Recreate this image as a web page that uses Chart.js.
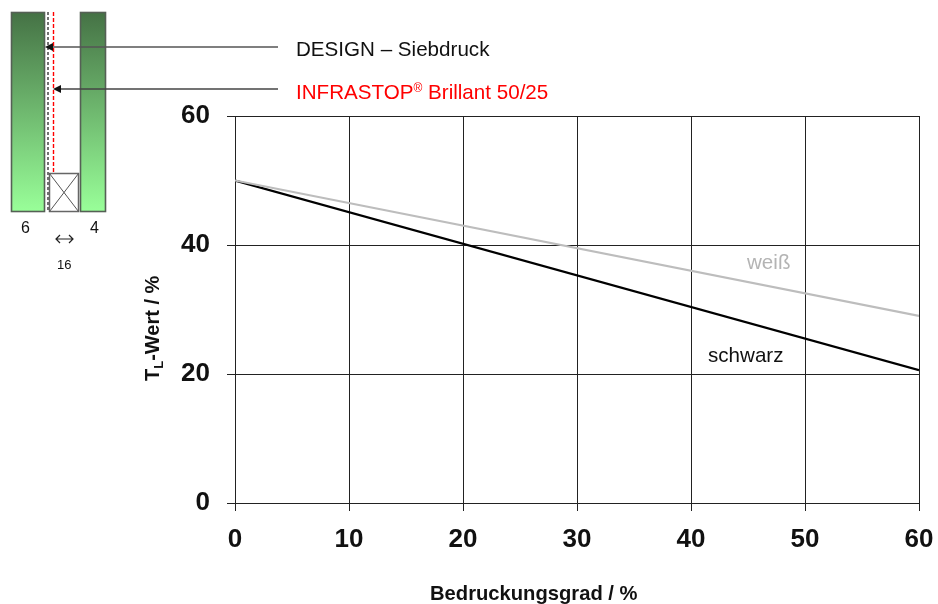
<!DOCTYPE html>
<html lang="de">
<head>
<meta charset="utf-8">
<title>TL-Wert</title>
<script src="https://cdn.jsdelivr.net/npm/chart.js@4"></script>
<style>
  html, body { margin: 0; padding: 0; background: #fff; }
  #wrap { position: relative; width: 938px; height: 604px; overflow: hidden; font-family: "Liberation Sans", Arial, sans-serif; color: #111; }
  #chart { position: absolute; left: 0; top: 0; }
  #diagram { position: absolute; left: 0; top: 0; }
  .label { position: absolute; white-space: nowrap; line-height: 1; }
  .label sup { font-size: 12px; vertical-align: 7px; line-height: 0; }
  .label sub { font-size: 13px; vertical-align: -4px; line-height: 0; }
</style>
</head>
<body>
<div id="wrap">
  <canvas id="chart" width="938" height="604"></canvas>
  <svg id="diagram" width="290" height="280" viewBox="0 0 290 280">
    <defs>
      <linearGradient id="glass" x1="0" y1="0" x2="0" y2="1">
        <stop offset="0" stop-color="#457245"/>
        <stop offset="1" stop-color="#99ff99"/>
      </linearGradient>
    </defs>
    <rect x="11.5" y="12.5" width="33" height="199" fill="url(#glass)" stroke="#556055" stroke-width="1.6"/>
    <rect x="80.5" y="12.5" width="25" height="199" fill="url(#glass)" stroke="#556055" stroke-width="1.6"/>
    <line x1="48" y1="12" x2="48" y2="211" stroke="#444" stroke-width="1.5" stroke-dasharray="3 2"/>
    <line x1="53.5" y1="12" x2="53.5" y2="172" stroke="#f00" stroke-width="1.4" stroke-dasharray="4 2"/>
    <rect x="49.5" y="173.5" width="29" height="38" fill="#fff" stroke="#666" stroke-width="1.5"/>
    <path d="M49.5 173.5 L78.5 211.5 M78.5 173.5 L49.5 211.5" stroke="#555" stroke-width="1"/>
    <line x1="52" y1="47" x2="278" y2="47" stroke="#555" stroke-width="1.6"/>
    <path d="M45 47 L53 43 L53 51 Z" fill="#111"/>
    <line x1="60" y1="89" x2="278" y2="89" stroke="#444" stroke-width="1.6"/>
    <path d="M53 89 L61 85 L61 93 Z" fill="#111"/>
    <path d="M56 239 H73 M60 235 L56 239 L60 243 M69 235 L73 239 L69 243" fill="none" stroke="#222" stroke-width="1.2"/>
  </svg>
  <div class="label" style="left:21px;top:220px;font-size:16px">6</div>
  <div class="label" style="left:90px;top:220px;font-size:16px">4</div>
  <div class="label" style="left:57px;top:258px;font-size:13px">16</div>
  <div class="label" style="left:296px;top:39px;font-size:20.6px">DESIGN – Siebdruck</div>
  <div class="label" style="left:296px;top:82px;font-size:20.6px;color:#f00">INFRASTOP<sup>®</sup> Brillant 50/25</div>
  <div class="label" style="left:747px;top:252px;font-size:20.6px;color:#b4b4b4">weiß</div>
  <div class="label" style="left:708px;top:345px;font-size:20.6px">schwarz</div>
  <div class="label" style="left:142px;top:381px;font-size:20px;font-weight:bold;transform-origin:0 0;transform:rotate(-90deg)">T<sub>L</sub>-Wert / %</div>
  <div class="label" style="left:430px;top:583px;font-size:20.2px;font-weight:bold">Bedruckungsgrad / %</div>
</div>
<script>
// Values
const bedruckung = [0, 60];
const schwarz = [50, 20.6];
const weiss = [50, 29];
const xTicks = [0, 10, 20, 30, 40, 50, 60];
const yTicks = [0, 20, 40, 60];

function points(values) {
  return values.map((v, i) => ({ x: bedruckung[i], y: v }));
}

const tickFont = { family: '"Liberation Sans", Arial, sans-serif', size: 26, weight: 'bold' };

new Chart(document.getElementById('chart').getContext('2d'), {
  type: 'line',
  data: {
    datasets: [
      { label: 'weiß', data: points(weiss), borderColor: '#bdbdbd', borderWidth: 2.2, pointRadius: 0, tension: 0 },
      { label: 'schwarz', data: points(schwarz), borderColor: '#000', borderWidth: 2.2, pointRadius: 0, tension: 0 }
    ]
  },
  options: {
    responsive: false,
    animation: false,
    layout: { autoPadding: false, padding: { top: 116, right: 19, left: 0, bottom: 0 } },
    plugins: { legend: { display: false }, tooltip: { enabled: false } },
    scales: {
      x: {
        type: 'linear',
        min: 0,
        max: 60,
        afterBuildTicks: axis => { axis.ticks = xTicks.map(v => ({ value: v })); },
        afterFit: axis => {
          axis.height = 101;
          // drop the room chart.js keeps for the last tick label, the plot runs to x=919
          axis.paddingLeft = 0;
          axis.paddingRight = 0;
        },
        grid: { color: '#222', lineWidth: 1, tickLength: 8, tickColor: '#222' },
        border: { color: '#222' },
        ticks: { font: tickFont, color: '#111', padding: 13, maxRotation: 0 }
      },
      y: {
        min: 0,
        max: 60,
        afterBuildTicks: axis => { axis.ticks = yTicks.map(v => ({ value: v })); },
        afterFit: axis => { axis.width = 235; },
        grid: { color: '#222', lineWidth: 1, tickLength: 8, tickColor: '#222' },
        border: { color: '#222' },
        ticks: { font: tickFont, color: '#111', padding: 17 }
      }
    }
  }
});
</script>
</body>
</html>
